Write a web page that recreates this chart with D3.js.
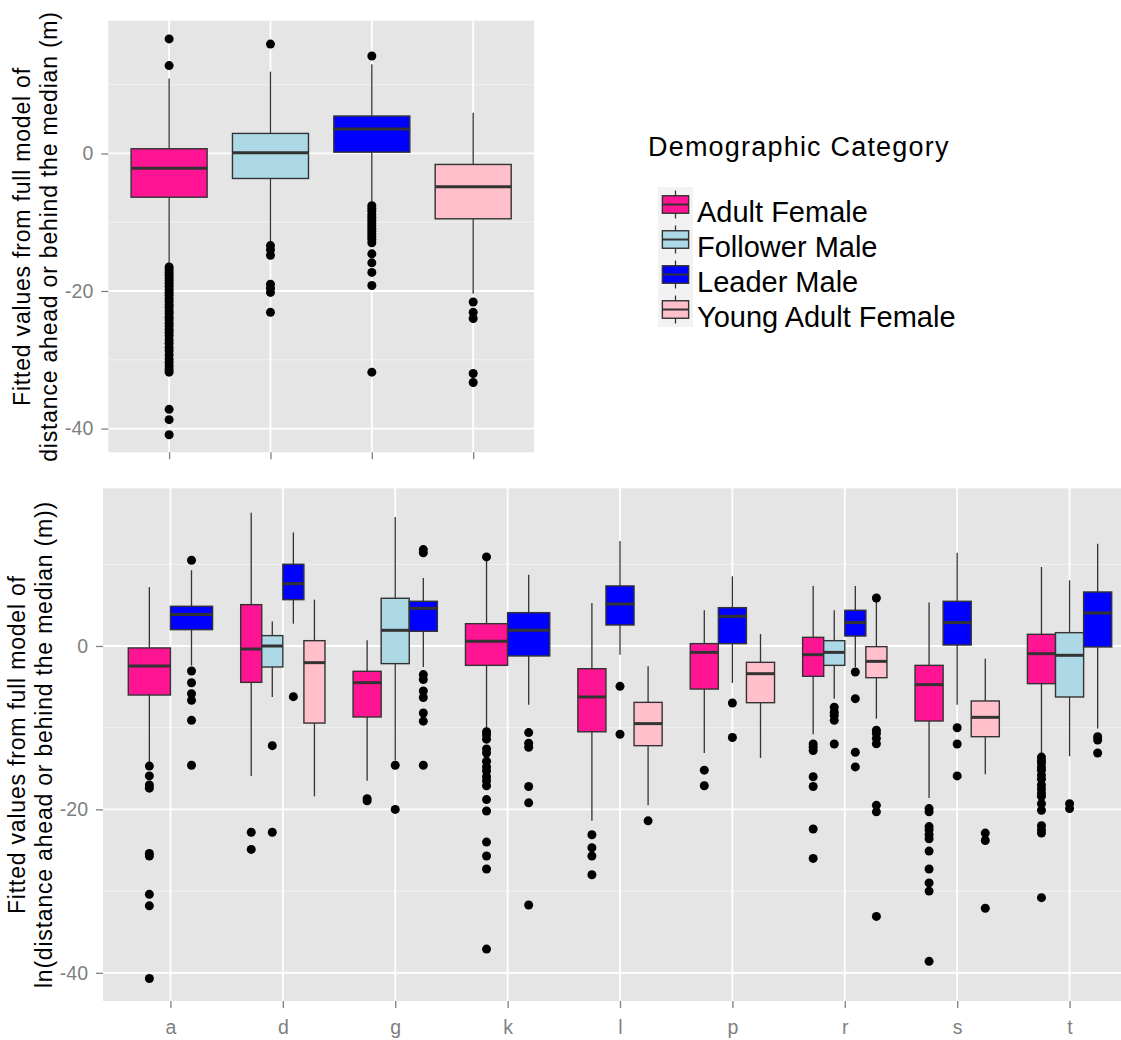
<!DOCTYPE html>
<html>
<head>
<meta charset="utf-8">
<script src="https://cdn.jsdelivr.net/npm/d3@7"></script>
<style>
  body { margin: 0; background: #fff; }
  svg { display: block; font-family: "Liberation Sans", Arial, sans-serif; }
</style>
</head>
<body>
<div id="chart"></div>
<script>
// categories
var groups = ["Adult Female", "Follower Male", "Leader Male", "Young Adult Female"];
var fills = ["#ff1493", "#add8e6", "#0000ff", "#ffc0cb"];
var yMajor = [-40, -20, 0];
var yMinor = [-30, -10, 10];

// top panel: [lower whisker, q1, median, q3, upper whisker]
var overallStats = [
  [-16.3, -6.36, -2.14, 0.68, 10.9],
  [-13.1, -3.64, 0.1, 2.91, 11.9],
  [-7.3, 0.19, 3.54, 5.44, 12.96],
  [-20.4, -9.5, -4.85, -1.6, 5.9]
];
var overallOutliers = [
  [16.65, 12.77, -16.5, -16.9, -17.3, -17.7, -18.1, -18.5, -18.9, -19.3, -19.8, -20.2, -20.6, -21.1,
   -21.5, -22.0, -22.4, -22.9, -23.3, -23.8, -24.2, -24.7, -25.1, -25.6, -26.0, -26.5, -27.1, -27.6,
   -28.2, -28.7, -29.3, -29.9, -30.4, -30.9, -31.4, -31.8, -37.2, -38.7, -40.9],
  [15.9, -13.4, -14.0, -14.8, -19.0, -19.6, -20.2, -23.1],
  [14.17, -7.6, -8.0, -8.4, -8.9, -9.3, -9.7, -10.1, -10.5, -10.9, -11.3, -11.7, -12.1, -12.5, -13.0,
   -14.6, -15.9, -17.3, -19.2, -31.8],
  [-21.6, -23.1, -24.0, -32.0, -33.3]
];

// bottom panel
var sites = ["a", "d", "g", "k", "l", "p", "r", "s", "t"];
// [site, group, lower whisker, q1, median, q3, upper whisker, outliers]
var siteBoxes = [
  ["a", "Adult Female", -14.3, -6.0, -2.45, -0.24, 7.2, [-14.7, -15.9, -17.0, -17.4, -25.4, -25.7, -30.4, -31.8, -40.7]],
  ["a", "Leader Male", -2.4, 2.0, 3.84, 4.86, 9.27, [10.5, -3.06, -4.5, -5.84, -6.65, -9.1, -14.6]],
  ["d", "Adult Female", -15.9, -4.45, -0.37, 5.06, 16.3, [-22.8, -24.9]],
  ["d", "Follower Male", -6.24, -2.57, 0.0, 1.27, 3.0, [-12.2, -22.8]],
  ["d", "Leader Male", 2.73, 5.67, 7.63, 10.0, 13.9, [-6.2]],
  ["d", "Young Adult Female", -18.4, -9.43, -2.04, 0.65, 5.67, []],
  ["g", "Adult Female", -16.5, -8.69, -4.49, -3.1, 0.69, [-18.7, -18.95]],
  ["g", "Follower Male", -14.0, -2.16, 1.92, 5.84, 15.8, [-14.6, -20.0]],
  ["g", "Leader Male", -2.57, 1.8, 4.61, 5.47, 8.33, [11.8, 11.4, -3.5, -4.1, -5.5, -6.3, -8.2, -9.2, -14.6]],
  ["k", "Adult Female", -10.1, -2.37, 0.57, 2.73, 10.4, [10.9, -10.5, -10.9, -11.4, -12.6, -13.1, -14.1, -14.8, -15.3, -16.0, -16.5, -17.1, -18.8, -20.2, -24.0, -25.7, -27.3, -37.1]],
  ["k", "Leader Male", -7.18, -1.22, 1.92, 4.08, 8.73, [-10.6, -11.9, -12.4, -17.2, -19.2, -31.7]],
  ["l", "Adult Female", -21.4, -10.5, -6.24, -2.78, 5.27, [-23.1, -24.7, -25.7, -28.0]],
  ["l", "Leader Male", -1.06, 2.57, 5.14, 7.35, 12.86, [-4.94, -10.8]],
  ["l", "Young Adult Female", -19.5, -12.2, -9.5, -6.9, -2.49, [-21.4]],
  ["p", "Adult Female", -13.1, -5.27, -0.78, 0.29, 4.37, [-15.2, -17.1]],
  ["p", "Leader Male", -4.53, 0.29, 3.63, 4.69, 8.53, [-6.98, -11.2]],
  ["p", "Young Adult Female", -13.7, -6.94, -3.39, -2.0, 1.47, []],
  ["r", "Adult Female", -10.8, -3.71, -1.06, 1.06, 7.35, [-12.0, -12.4, -12.8, -16.0, -17.2, -22.4, -26.0]],
  ["r", "Follower Male", -6.45, -2.37, -0.78, 0.65, 4.37, [-7.5, -8.1, -8.5, -9.1, -12.0]],
  ["r", "Leader Male", -2.57, 1.22, 2.86, 4.37, 7.35, [-3.18, -6.45, -13.0, -14.8]],
  ["r", "Young Adult Female", -8.9, -3.88, -1.88, -0.08, 5.39, [5.88, -10.3, -10.7, -11.3, -11.96, -19.5, -20.3, -33.1]],
  ["s", "Adult Female", -18.6, -9.18, -4.73, -2.37, 5.31, [-19.9, -20.3, -22.1, -22.5, -23.1, -23.6, -25.1, -27.3, -29.0, -30.0, -38.6]],
  ["s", "Leader Male", -7.2, 0.12, 2.86, 5.47, 11.4, [-10.0, -12.0, -15.9]],
  ["s", "Young Adult Female", -15.7, -11.1, -8.73, -6.73, -1.55, [-22.9, -23.8, -32.1]],
  ["t", "Adult Female", -13.2, -4.61, -0.94, 1.43, 9.67, [-13.6, -14.0, -14.3, -14.8, -15.2, -15.8, -16.3, -17.0, -17.5, -18.0, -18.4, -19.3, -20.1, -22.0, -22.5, -22.9, -30.8]],
  ["t", "Follower Male", -13.5, -6.24, -1.14, 1.63, 8.04, [-19.3, -19.9]],
  ["t", "Leader Male", -10.1, -0.12, 4.04, 6.61, 12.5, [-11.1, -11.5, -13.1]]
];

var yDomain = [-43.45, 19.3];
var grey50 = "#7f7f7f";
var ink = "#333333";

var svg = d3.select("#chart").append("svg").attr("width", 1121).attr("height", 1040);
svg.append("rect").attr("width", 1121).attr("height", 1040).attr("fill", "#fff");

var colour = d3.scaleOrdinal().domain(groups).range(fills);

// panel background, grid and axes
function panel(x0, x1, y0, y1, xScale, labels) {
  var y = d3.scaleLinear().domain(yDomain).range([y1, y0]);
  var g = svg.append("g");
  g.append("rect").attr("x", x0).attr("y", y0).attr("width", x1 - x0).attr("height", y1 - y0)
    .attr("fill", "#e5e5e5");
  g.selectAll(".minor").data(yMinor).enter().append("line")
    .attr("x1", x0).attr("x2", x1)
    .attr("y1", function(d) {return y(d);}).attr("y2", function(d) {return y(d);})
    .attr("stroke", "#f2f2f2").attr("stroke-width", 1);
  g.selectAll(".major").data(yMajor).enter().append("line")
    .attr("x1", x0).attr("x2", x1)
    .attr("y1", function(d) {return y(d);}).attr("y2", function(d) {return y(d);})
    .attr("stroke", "#fff").attr("stroke-width", 1.8);
  g.selectAll(".vgrid").data(xScale.domain()).enter().append("line")
    .attr("x1", function(d) {return xScale(d);}).attr("x2", function(d) {return xScale(d);})
    .attr("y1", y0).attr("y2", y1)
    .attr("stroke", "#fff").attr("stroke-width", 1.8);

  var ya = svg.append("g").attr("transform", "translate(" + x0 + ",0)")
    .call(d3.axisLeft(y).tickValues(yMajor).tickSize(7).tickPadding(8)
      .tickFormat(function(d) {return String(d);}));
  var xa = svg.append("g").attr("transform", "translate(0," + y1 + ")")
    .call(d3.axisBottom(xScale).tickSize(7).tickPadding(12).tickFormat(labels ? null : ""));
  [ya, xa].forEach(function(a) {
    a.select(".domain").remove();
    a.selectAll("line").attr("stroke", grey50).attr("stroke-width", 1.3);
    a.selectAll("text").attr("fill", grey50).style("font-size", "19.5px")
      .style("font-family", "'Liberation Sans', Arial, sans-serif");
  });
  return y;
}

function drawBox(cx, w, s, outliers, fill, y) {
  var g = svg.append("g");
  g.append("line").attr("x1", cx).attr("x2", cx).attr("y1", y(s[4])).attr("y2", y(s[3]))
    .attr("stroke", ink).attr("stroke-width", 1.3);
  g.append("line").attr("x1", cx).attr("x2", cx).attr("y1", y(s[1])).attr("y2", y(s[0]))
    .attr("stroke", ink).attr("stroke-width", 1.3);
  g.append("rect").attr("x", cx - w / 2).attr("width", w)
    .attr("y", y(s[3])).attr("height", y(s[1]) - y(s[3]))
    .attr("fill", fill).attr("stroke", ink).attr("stroke-width", 1.4);
  g.append("line").attr("x1", cx - w / 2).attr("x2", cx + w / 2)
    .attr("y1", y(s[2])).attr("y2", y(s[2]))
    .attr("stroke", ink).attr("stroke-width", 3);
  g.selectAll("circle").data(outliers).enter().append("circle")
    .attr("cx", cx).attr("cy", function(d) {return y(d);}).attr("r", 4.5)
    .attr("fill", "#000");
}

// 1 top panel
var xTop = d3.scalePoint().domain(groups).range([108.3, 534]).padding(0.6);
var yTop = panel(108.3, 534, 20.7, 452.3, xTop, false);
groups.forEach(function(gName, i) {
  drawBox(xTop(gName), xTop.step() * 0.75, overallStats[i], overallOutliers[i], colour(gName), yTop);
});

// 2 bottom panel, boxes dodged within each site
var xSite = d3.scalePoint().domain(sites).range([103, 1137]).padding(0.6);
var yBot = panel(103, 1137, 488.3, 1001, xSite, true);
sites.forEach(function(site) {
  var rows = siteBoxes.filter(function(r) {return r[0] === site;});
  var c = xSite(site), half = xSite.step() * 0.375;
  var inner = d3.scaleBand().domain(rows.map(function(r) {return r[1];})).range([c - half, c + half]);
  rows.forEach(function(r) {
    drawBox(inner(r[1]) + inner.bandwidth() / 2, inner.bandwidth(), r.slice(2, 7), r[7], colour(r[1]), yBot);
  });
});

// axis titles
function yTitle(cx, cy, lines) {
  lines.forEach(function(t, i) {
    svg.append("text").attr("transform", "translate(" + (cx + i * 27) + "," + cy + ") rotate(-90)")
      .attr("text-anchor", "middle").style("font-size", "23px").style("letter-spacing", "0.8px")
      .attr("fill", "#000").text(t);
  });
}
yTitle(30, 236.5, ["Fitted values from full model of", "distance ahead or behind the median (m)"]);
yTitle(25, 744.6, ["Fitted values from full model of", "ln(distance ahead or behind the median (m))"]);

// 3 legend
var leg = svg.append("g").attr("transform", "translate(658,187)");
svg.append("text").attr("x", 648).attr("y", 156).style("font-size", "27px").style("letter-spacing", "1.2px")
  .attr("fill", "#000").text("Demographic Category");
var keySize = 35;
var keys = leg.selectAll("g").data(groups).enter().append("g")
  .attr("transform", function(d, i) {return "translate(0," + i * keySize + ")";});
keys.append("rect").attr("width", keySize).attr("height", keySize).attr("fill", "#f2f2f2");
keys.append("line").attr("x1", keySize / 2).attr("x2", keySize / 2).attr("y1", keySize * 0.1).attr("y2", keySize * 0.9)
  .attr("stroke", ink).attr("stroke-width", 1.3);
keys.append("rect").attr("x", keySize * 0.125).attr("y", keySize * 0.25)
  .attr("width", keySize * 0.75).attr("height", keySize * 0.5)
  .attr("fill", function(d) {return colour(d);}).attr("stroke", ink).attr("stroke-width", 1.4);
keys.append("line").attr("x1", keySize * 0.125).attr("x2", keySize * 0.875)
  .attr("y1", keySize / 2).attr("y2", keySize / 2).attr("stroke", ink).attr("stroke-width", 2);
keys.append("text").attr("x", 39).attr("y", keySize).style("font-size", "29px")
  .attr("fill", "#000").text(function(d) {return d;});
</script>
</body>
</html>
